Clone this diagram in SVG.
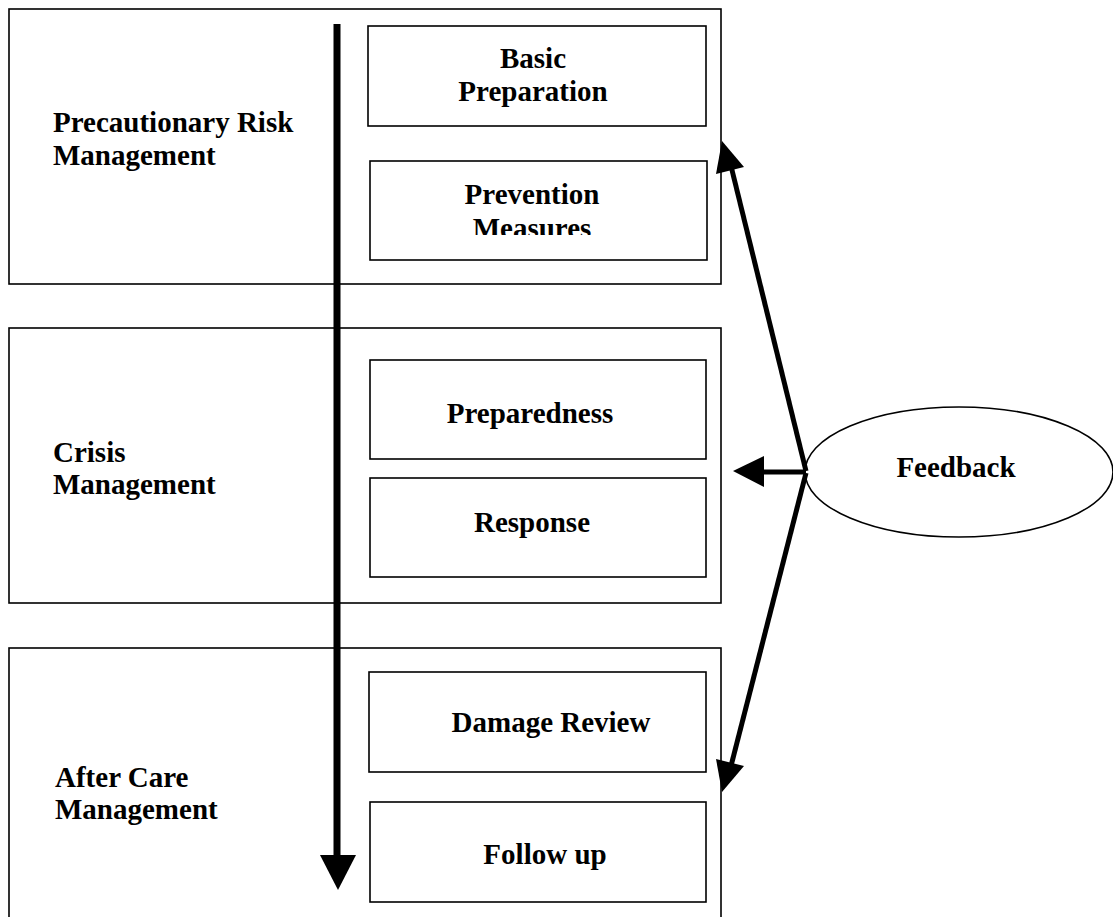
<svg xmlns="http://www.w3.org/2000/svg" width="1113" height="917" viewBox="0 0 1113 917">
<style>
.box{fill:#fff;stroke:#000;stroke-width:1.6}
.t{font-family:"Liberation Serif","Times New Roman",serif;font-weight:bold;font-size:29px;fill:#000}
.c{text-anchor:middle}
.ln{stroke:#000;fill:none}
</style>
<defs>
<clipPath id="clipMeasures"><rect x="370" y="161" width="337" height="74"/></clipPath>
</defs>
<rect width="1113" height="917" fill="#fff"/>
<g id="phase-precautionary">
<rect class="box" x="9" y="9" width="712" height="275"/>
<text class="t" x="53" y="132">Precautionary Risk</text>
<text class="t" x="53" y="165">Management</text>
</g>
<g id="basic-preparation">
<rect class="box" x="368" y="26" width="338" height="100"/>
<text class="t c" x="533" y="68">Basic</text>
<text class="t c" x="533" y="101">Preparation</text>
</g>
<g id="prevention-measures">
<rect class="box" x="370" y="161" width="337" height="99"/>
<text class="t c" x="532" y="204">Prevention</text>
<text class="t c" x="532" y="238" clip-path="url(#clipMeasures)">Measures</text>
</g>
<g id="phase-crisis">
<rect class="box" x="9" y="328" width="712" height="275"/>
<text class="t" x="53" y="462">Crisis</text>
<text class="t" x="53" y="494">Management</text>
</g>
<g id="preparedness">
<rect class="box" x="370" y="360" width="336" height="99"/>
<text class="t c" x="530" y="423">Preparedness</text>
</g>
<g id="response">
<rect class="box" x="370" y="478" width="336" height="99"/>
<text class="t c" x="532" y="532">Response</text>
</g>
<g id="phase-aftercare">
<rect class="box" x="9" y="648" width="712" height="290"/>
<text class="t" x="55" y="787">After Care</text>
<text class="t" x="55" y="819">Management</text>
</g>
<g id="damage-review">
<rect class="box" x="369" y="672" width="337" height="100"/>
<text class="t c" x="551" y="732">Damage Review</text>
</g>
<g id="follow-up">
<rect class="box" x="370" y="802" width="336" height="100"/>
<text class="t c" x="545" y="864">Follow up</text>
</g>
<g id="feedback">
<ellipse cx="959" cy="472" rx="154" ry="65" fill="#fff" stroke="#000" stroke-width="1.6"/>
<text class="t c" x="956" y="477">Feedback</text>
</g>
<g id="connectors">
<line class="ln" x1="337" y1="24" x2="337" y2="858" stroke-width="7"/>
<polygon points="320,855 356,855 338,890" fill="#000"/>
<line class="ln" x1="806" y1="472" x2="760" y2="472" stroke-width="5"/>
<polygon points="733,471 764,456 764,487" fill="#000"/>
<line class="ln" x1="806" y1="471" x2="731" y2="166" stroke-width="5"/>
<polygon points="722,141 716,174 744,167" fill="#000"/>
<line class="ln" x1="806" y1="473" x2="731" y2="766" stroke-width="5"/>
<polygon points="722,792 716,759 744,766" fill="#000"/>
</g>
</svg>
